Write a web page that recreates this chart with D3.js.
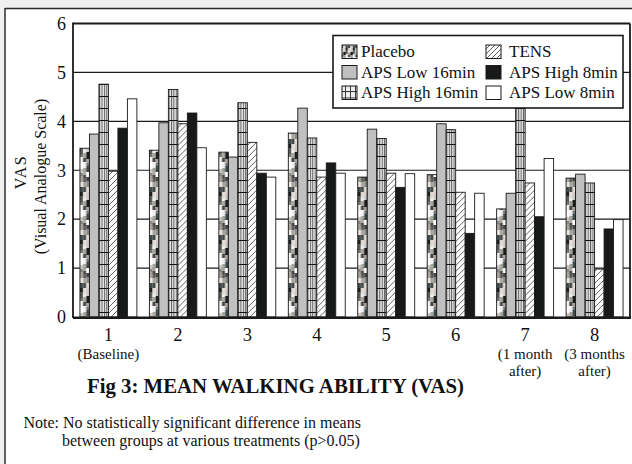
<!DOCTYPE html>
<html><head><meta charset="utf-8">
<script src="https://cdn.jsdelivr.net/npm/d3@7"></script>
<style>
html,body{margin:0;padding:0;background:#f0f0f0;}
svg{display:block;}
text{font-family:"Liberation Serif","Times New Roman",serif;fill:#111;}
</style></head><body>
<svg id="chart" width="632" height="464"></svg>
<script>
// ---- data ----
const treatments = ["1","2","3","4","5","6","7","8"];
const treatmentNotes = [["(Baseline)"],[],[],[],[],[],["(1 month","after)"],["(3 months","after)"]];
const seriesNames = ["Placebo","APS Low 16min","APS High 16min","TENS","APS High 8min","APS Low 8min"];
const placebo   = [3.45,3.41,3.37,3.76,2.86,2.91,2.21,2.84];
const apsLow16  = [3.74,3.97,3.27,4.27,3.84,3.95,2.53,2.92];
const apsHigh16 = [4.76,4.65,4.38,3.66,3.65,3.83,4.60,2.74];
const tens      = [2.98,3.95,3.57,2.86,2.94,2.55,2.74,0.98];
const apsHigh8  = [3.86,4.17,2.94,3.15,2.65,1.71,2.05,1.80];
const apsLow8   = [4.46,3.46,2.86,2.94,2.93,2.53,3.24,1.99];
const yTicks = [0,1,2,3,4,5,6];
const gridValues = [1,2,3,4,5];
const titleText = "Fig 3: MEAN WALKING ABILITY (VAS)";
const noteLines = ["Note: No statistically significant difference in means","between groups at various treatments (p>0.05)"];
const yTitleLines = ["VAS","(Visual Analogue Scale)"];

const seriesValues = [placebo, apsLow16, apsHigh16, tens, apsHigh8, apsLow8];

// ---- styles ----
const fills = ["url(#pPlacebo)","#c0c0c0","url(#pGrid)","url(#pHatch)","#171a19","#ffffff"];
const legendFills = ["url(#pPlaceboL)","#c0c0c0","url(#pGridL)","url(#pHatchL)","#171a19","#ffffff"];

const svg = d3.select("#chart");
const W = 632, H = 464;
const plot = {left:73, right:630, top:23.5, bottom:317};

// defs / patterns
const defs = svg.append("defs");
const mottle = ["#1d1d1d","#f4eeee","#8a8a88","#3c4c4a","#d9c9c9","#5a5a5a","#ffffff","#a8a49a","#2a2a2a","#e0dcd4","#6f7a78","#c8c8c8","#efe6e6","#454545"];
// irregular mottled tile: each column has its own run of block heights
const mottleCols = [
  [4,6,3,5,7,4,3,6,5,5],
  [6,3,5,4,6,7,3,4,5,5],
  [3,5,7,4,3,6,5,4,6,5]
];
function mottlePattern(id, cw, scale){
  const hTot = 48*scale;
  const p = defs.append("pattern").attr("id",id).attr("patternUnits","userSpaceOnUse")
    .attr("width",cw*mottleCols.length).attr("height",hTot);
  mottleCols.forEach((col,c)=>{
    let yy = 0;
    col.forEach((h,r)=>{
      p.append("rect").attr("x",c*cw).attr("y",yy).attr("width",cw).attr("height",h*scale)
       .attr("fill", mottle[(r*5 + c*9 + (r*c)%4) % mottle.length]);
      yy += h*scale;
    });
  });
}
mottlePattern("pPlacebo",3.17,1);
mottlePattern("pPlaceboL",2.4,0.5);

function gridPattern(id, w, h, vcol, hcol, bg){
  const p = defs.append("pattern").attr("id",id).attr("patternUnits","userSpaceOnUse").attr("width",w).attr("height",h);
  p.append("rect").attr("width",w).attr("height",h).attr("fill",bg);
  p.append("line").attr("x1",0.5).attr("x2",0.5).attr("y1",0).attr("y2",h).attr("stroke",vcol).attr("stroke-width",0.9);
  p.append("line").attr("x1",0).attr("x2",w).attr("y1",0.5).attr("y2",0.5).attr("stroke",hcol).attr("stroke-width",1);
}
gridPattern("pGrid",2.4,12,"#555","#111","#e6e6e6");
gridPattern("pGridL",5,6.5,"#333","#333","#eeeeee");

function hatchPattern(id, s){
  const p = defs.append("pattern").attr("id",id).attr("patternUnits","userSpaceOnUse").attr("width",s).attr("height",s);
  p.append("rect").attr("width",s).attr("height",s).attr("fill","#fff");
  p.append("path").attr("d",`M0,${s} L${s},0 M${-s/4},${s/4} L${s/4},${-s/4} M${s*0.75},${s*1.25} L${s*1.25},${s*0.75}`)
    .attr("stroke","#444").attr("stroke-width",0.85);
}
hatchPattern("pHatch",6);
hatchPattern("pHatchL",5);

// background: inner white area with outer frame
svg.append("rect").attr("x",5).attr("y",8.5).attr("width",W).attr("height",H).attr("fill","#fff");
svg.append("line").attr("x1",5).attr("x2",W).attr("y1",8.5).attr("y2",8.5).attr("stroke","#2b2b2b").attr("stroke-width",1.5);
svg.append("line").attr("x1",5).attr("x2",5).attr("y1",8).attr("y2",H).attr("stroke","#2b2b2b").attr("stroke-width",1.5);

// scales
const x0 = d3.scaleBand().domain(treatments).range([plot.left, plot.right]).paddingInner(0.18).paddingOuter(0.1);
const x1 = d3.scaleBand().domain(seriesNames).range([0, x0.bandwidth()]);
const y = d3.scaleLinear().domain([0,6]).range([plot.bottom, plot.top]);

// gridlines
svg.append("g").selectAll("line").data(gridValues).join("line")
  .attr("x1",plot.left).attr("x2",plot.right)
  .attr("y1",d=>y(d)).attr("y2",d=>y(d))
  .attr("stroke","#1a1a1a").attr("stroke-width",1.2);

// bars
const groups = svg.append("g").selectAll("g").data(treatments).join("g")
  .attr("transform",d=>`translate(${x0(d)},0)`);
groups.selectAll("rect").data((d,i)=>seriesNames.map((s,k)=>({s,k,v:seriesValues[k][i]}))).join("rect")
  .attr("x",d=>x1(d.s)).attr("width",x1.bandwidth())
  .attr("y",d=>y(d.v)).attr("height",d=>y(0)-y(d.v))
  .attr("fill",d=>fills[d.k]).attr("stroke","#1a1a1a").attr("stroke-width",0.9);

// frame
svg.append("line").attr("x1",plot.left).attr("x2",plot.right).attr("y1",plot.top).attr("y2",plot.top).attr("stroke","#1a1a1a").attr("stroke-width",1.8);
svg.append("line").attr("x1",plot.right).attr("x2",plot.right).attr("y1",plot.top).attr("y2",plot.bottom+1).attr("stroke","#1a1a1a").attr("stroke-width",1.8);
svg.append("line").attr("x1",plot.left).attr("x2",plot.left).attr("y1",plot.top-0.9).attr("y2",plot.bottom+1).attr("stroke","#1a1a1a").attr("stroke-width",1.8);
svg.append("line").attr("x1",plot.left).attr("x2",plot.right+0.9).attr("y1",plot.bottom+0.8).attr("y2",plot.bottom+0.8).attr("stroke","#1a1a1a").attr("stroke-width",2.6);

// y axis labels
const yAxis = svg.append("g").attr("transform",`translate(${plot.left},0)`)
  .call(d3.axisLeft(y).tickValues(yTicks).tickSize(0).tickPadding(7).tickFormat(d3.format("d")));
yAxis.select(".domain").remove();
yAxis.selectAll("text").style("font-family","'Liberation Serif',serif").style("font-size","18px").attr("fill","#111");

// y title
svg.append("text").attr("transform","translate(26,172) rotate(-90)").attr("text-anchor","middle")
  .style("font-size","16px").attr("letter-spacing","1.5px").text(yTitleLines[0]);
svg.append("text").attr("transform","translate(46,176.5) rotate(-90)").attr("text-anchor","middle")
  .style("font-size","16px").text(yTitleLines[1]);

// x axis labels
const xAxis = svg.append("g").attr("transform",`translate(0,${plot.bottom})`)
  .call(d3.axisBottom(x0).tickSize(0).tickPadding(0));
xAxis.select(".domain").remove();
xAxis.selectAll("text").attr("dy",null).attr("y",24).style("font-family","'Liberation Serif',serif").style("font-size","18.5px").attr("fill","#111");
const subRows = [358.5, 375.5];
treatments.forEach((t,i)=>{
  treatmentNotes[i].forEach((line,j)=>{
    svg.append("text").attr("x",x0(t)+x0.bandwidth()/2).attr("y",subRows[j])
      .attr("text-anchor","middle").style("font-size","15px").text(line);
  });
});

// title
svg.append("text").attr("x",87).attr("y",393).style("font-size","20.8px").style("font-weight","bold").text(titleText);

// note
svg.append("text").attr("x",23.5).attr("y",428).style("font-size","16px").text(noteLines[0]);
svg.append("text").attr("x",62).attr("y",446).style("font-size","16px").text(noteLines[1]);

// legend
const lg = svg.append("g");
lg.append("rect").attr("x",333).attr("y",35.5).attr("width",290).attr("height",72.5).attr("fill","#fff");
const legendRowY = [45, 65.5, 86];
const legendColX = [342, 486];
const legendTextX = [361, 509];
seriesNames.forEach((s,k)=>{
  const col = Math.floor(k/3), row = k%3;
  lg.append("rect").attr("x",legendColX[col]).attr("y",legendRowY[row]).attr("width",15).attr("height",13.5)
    .attr("fill",legendFills[k]).attr("stroke","#1a1a1a").attr("stroke-width",1);
  lg.append("text").attr("x",legendTextX[col]).attr("y",legendRowY[row]+12).style("font-size","17px").text(s);
});
lg.append("rect").attr("x",333).attr("y",35.5).attr("width",290).attr("height",72.5).attr("fill","none")
  .attr("stroke","#1a1a1a").attr("stroke-width",1.6);
</script>
</body></html>
